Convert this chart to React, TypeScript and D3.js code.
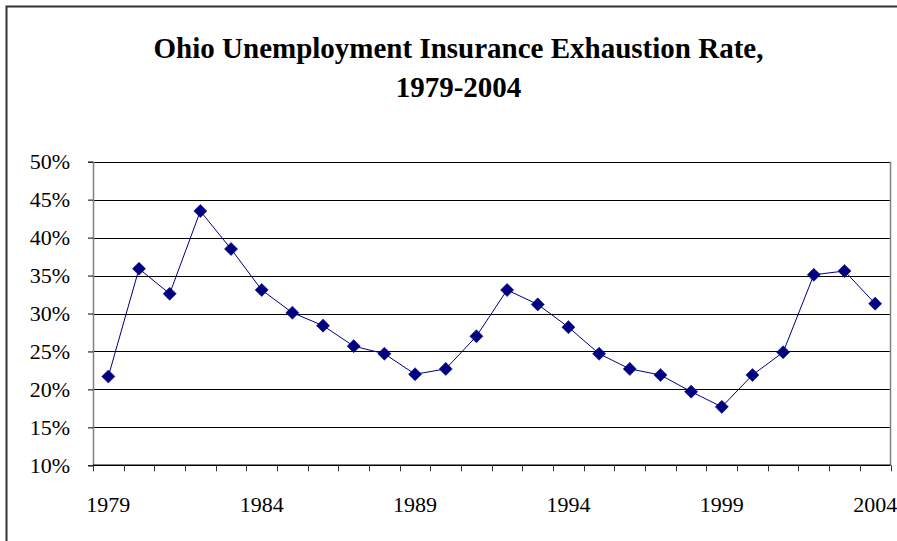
import { useEffect, useRef } from "react";
import * as d3 from "d3";

const years = [
  1979, 1980, 1981, 1982, 1983, 1984, 1985, 1986, 1987, 1988, 1989, 1990, 1991,
  1992, 1993, 1994, 1995, 1996, 1997, 1998, 1999, 2000, 2001, 2002, 2003, 2004,
];
const exhaustionRate = [
  21.7, 35.9, 32.6, 43.5, 38.5, 33.1, 30.1, 28.4, 25.7, 24.7, 22.0, 22.7, 27.0,
  33.1, 31.2, 28.2, 24.7, 22.7, 21.9, 19.7, 17.7, 21.9, 24.9, 35.1, 35.6, 31.3,
];
const yTicks = [10, 15, 20, 25, 30, 35, 40, 45, 50];
const labelYears = [1979, 1984, 1989, 1994, 1999, 2004];
const titleLines = ["Ohio Unemployment Insurance Exhaustion Rate,", "1979-2004"];

export default function App() {
  const ref = useRef<SVGSVGElement>(null);

  useEffect(() => {
    if (!ref.current) return;
    const svg = d3.select(ref.current);
    svg.selectAll("*").remove();

    const W = 897;
    const H = 541;
    const left = 93;
    const right = 890.5;
    const top = 161.7;
    const bottom = 465.3;
    const font = "'Liberation Serif', 'Times New Roman', serif";

    svg.append("rect").attr("width", W).attr("height", H).attr("fill", "#fff");

    // outer frame (only top and left visible)
    svg
      .append("path")
      .attr("d", `M6.5,${H + 5}V6.5H${W + 5}`)
      .attr("fill", "none")
      .attr("stroke", "#333")
      .attr("stroke-width", 2);

    // title
    svg
      .append("text")
      .attr("font-family", font)
      .attr("font-weight", "bold")
      .attr("font-size", 29)
      .attr("text-anchor", "middle")
      .selectAll("tspan")
      .data(titleLines)
      .enter()
      .append("tspan")
      .attr("x", 458.5)
      .attr("y", (_, i) => 58 + i * 39)
      .text((d) => d);

    const x = d3
      .scaleBand<number>()
      .domain(years)
      .range([left, right]);
    const y = d3.scaleLinear().domain([10, 50]).range([bottom, top]);

    // gridlines
    svg
      .append("g")
      .selectAll("line")
      .data(yTicks.filter((t) => t > 10))
      .enter()
      .append("line")
      .attr("x1", left)
      .attr("x2", right)
      .attr("y1", (d) => Math.round(y(d)) + 0.5)
      .attr("y2", (d) => Math.round(y(d)) + 0.5)
      .attr("stroke", "#000")
      .attr("stroke-width", 1);

    // plot area right border
    svg
      .append("line")
      .attr("x1", right)
      .attr("x2", right)
      .attr("y1", top)
      .attr("y2", bottom)
      .attr("stroke", "#808080")
      .attr("stroke-width", 1.5);

    // y axis
    const yAxis = svg
      .append("g")
      .attr("transform", `translate(${left},0)`)
      .call(
        d3
          .axisLeft(y)
          .tickValues(yTicks)
          .tickSize(5)
          .tickPadding(18)
          .tickFormat((d) => `${d}%`)
      );
    yAxis.select(".domain").attr("stroke", "#808080").attr("stroke-width", 1.5);
    yAxis.selectAll(".tick line").attr("stroke", "#000");
    yAxis
      .selectAll("text")
      .attr("font-family", font)
      .attr("font-size", 22)
      .attr("fill", "#000");

    // x axis: ticks at category boundaries
    const xg = svg.append("g").attr("transform", `translate(0,${bottom})`);
    xg.append("line")
      .attr("x1", left)
      .attr("x2", right)
      .attr("stroke", "#000")
      .attr("stroke-width", 1.5);
    const bounds = years.map((yr) => x(yr) as number).concat([right]);
    xg.selectAll(".tk")
      .data(bounds)
      .enter()
      .append("line")
      .attr("class", "tk")
      .attr("x1", (d) => Math.round(d) + 0.5)
      .attr("x2", (d) => Math.round(d) + 0.5)
      .attr("y1", 0)
      .attr("y2", 6)
      .attr("stroke", "#333");
    xg.selectAll(".lb")
      .data(labelYears)
      .enter()
      .append("text")
      .attr("class", "lb")
      .attr("x", (d) => (x(d) as number) + x.bandwidth() / 2)
      .attr("y", 47)
      .attr("text-anchor", "middle")
      .attr("font-family", font)
      .attr("font-size", 22)
      .text((d) => d);

    // line
    const cx = (i: number) => (x(years[i]) as number) + x.bandwidth() / 2;
    const line = d3
      .line<number>()
      .x((_, i) => cx(i))
      .y((d) => y(d));
    svg
      .append("path")
      .datum(exhaustionRate)
      .attr("d", line)
      .attr("fill", "none")
      .attr("stroke", "#000080")
      .attr("stroke-width", 1);

    // diamond markers
    const diamond = d3.symbol().type(d3.symbolDiamond2).size(110);
    svg
      .append("g")
      .selectAll("path")
      .data(exhaustionRate)
      .enter()
      .append("path")
      .attr("d", diamond)
      .attr("transform", (d, i) => `translate(${cx(i)},${y(d)})`)
      .attr("fill", "#000080")
      .attr("stroke", "#000080")
      .attr("stroke-width", 0.5);
  }, []);

  return (
    <svg
      ref={ref}
      width={897}
      height={541}
      style={{ position: "absolute", left: 0, top: 0, display: "block" }}
    />
  );
}
